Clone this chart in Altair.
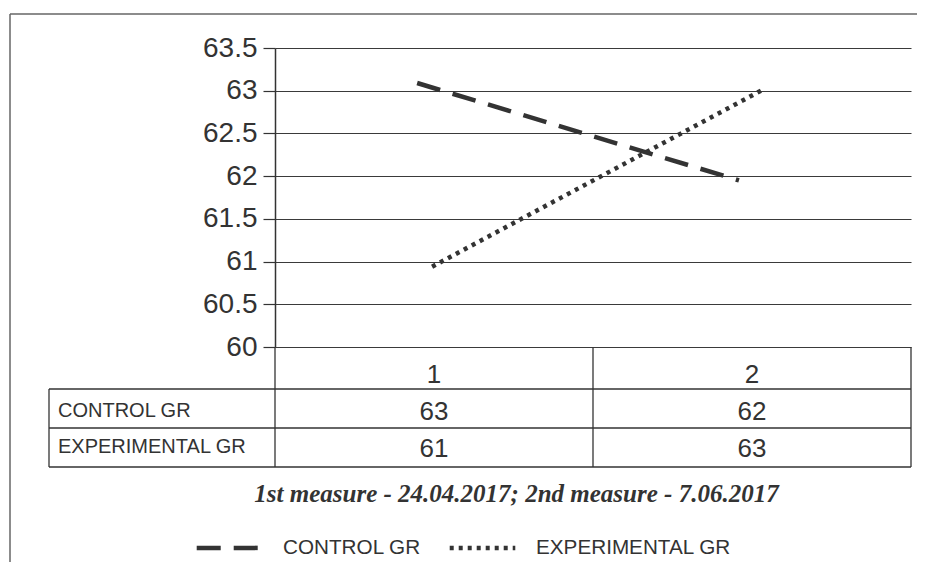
import altair as alt
import pandas as pd

# ---- data ----
series_names = ["CONTROL GR", "EXPERIMENTAL GR"]
measures = [1, 2]
# line vertices as drawn (x in measure units, y in value units)
control_x = [0.947, 1.959]
control_y = [63.09, 61.95]
experimental_x = [0.994, 2.028]
experimental_y = [60.94, 63.0]
# data table under the chart
table_control = [63, 62]
table_experimental = [61, 63]
y_ticks = [60, 60.5, 61, 61.5, 62, 62.5, 63, 63.5]
band_edges = [0.5, 1.5, 2.5]
caption = "1st measure - 24.04.2017; 2nd measure - 7.06.2017"

FONT = "Liberation Sans"
INK = "#333333"
W, H = 636, 299

lines_df = pd.DataFrame({
    "series": [series_names[0]] * 2 + [series_names[1]] * 2,
    "x": control_x + experimental_x,
    "y": control_y + experimental_y,
    "order": [0, 1, 0, 1],
})
table_df = pd.DataFrame({
    "m": measures,
    "control": table_control,
    "experimental": table_experimental,
})
edges_df = pd.DataFrame({"x": band_edges})
one = pd.DataFrame({"a": [0]})

xscale = alt.Scale(domain=[0.5, 2.5])


def xenc(field):
    return alt.X(field, scale=xscale, axis=None)


# outer frame (only top and left edges fall inside the page)
frame_top = alt.Chart(one).mark_rule(color="#666666", strokeWidth=1.5).encode(
    x=alt.value(-265), x2=alt.value(720), y=alt.value(-34)
)
frame_left = alt.Chart(one).mark_rule(color="#666666", strokeWidth=1.5).encode(
    x=alt.value(-265), y=alt.value(-34), y2=alt.value(620)
)

lines = alt.Chart(lines_df).mark_line(color=INK, strokeWidth=4.5, strokeCap="butt").encode(
    x=xenc("x:Q"),
    y=alt.Y(
        "y:Q",
        scale=alt.Scale(domain=[60, 63.5], nice=False, zero=False),
        axis=alt.Axis(
            values=y_ticks, title=None, format="~g",
            labelFont=FONT, labelFontSize=28, labelColor=INK, labelPadding=6,
            tickSize=12, tickColor=INK, tickWidth=1.2,
            domainColor=INK, domainWidth=1.5,
            grid=True, gridColor="#3a3a3a", gridWidth=1.2,
        ),
    ),
    strokeDash=alt.StrokeDash(
        "series:N",
        scale=alt.Scale(domain=series_names, range=[[24, 13], [4, 5]]),
        legend=alt.Legend(
            orient="none", legendX=-81, legendY=464, direction="horizontal",
            title=None, symbolType="stroke", symbolSize=4300,
            symbolStrokeWidth=4.5, symbolStrokeColor=INK,
            labelFont=FONT, labelFontSize=20.7, labelColor=INK, labelLimit=400,
            labelOffset=18, columnPadding=19, padding=0,
        ),
    ),
    order="order:Q",
)

# table grid
hlines = [
    alt.Chart(one).mark_rule(color=INK, strokeWidth=1.3).encode(
        x=alt.value(-226), x2=alt.value(W), y=alt.value(yv)
    )
    for yv in (341, 380, 419)
]
left_edge = alt.Chart(one).mark_rule(color=INK, strokeWidth=1.3).encode(
    x=alt.value(-226), y=alt.value(341), y2=alt.value(419)
)
vlines = alt.Chart(edges_df).mark_rule(color=INK, strokeWidth=1.3).encode(
    x=xenc("x:Q"), y=alt.value(H), y2=alt.value(419)
)


def cell_text(field, ypix):
    return alt.Chart(table_df).mark_text(
        font=FONT, fontSize=26, color=INK, baseline="middle", align="center"
    ).encode(x=xenc("m:Q"), y=alt.value(ypix), text=f"{field}:N")


header = cell_text("m", 327)
row_c = cell_text("control", 364)
row_e = cell_text("experimental", 401)

row_labels = [
    alt.Chart(pd.DataFrame({"label": [series_names[i]]})).mark_text(
        font=FONT, fontSize=20, color=INK, align="left", baseline="middle"
    ).encode(x=alt.value(-217), y=alt.value(yp), text="label:N")
    for i, yp in ((0, 362.5), (1, 398.5))
]

cap = alt.Chart(pd.DataFrame({"t": [caption]})).mark_text(
    font="Liberation Serif", fontSize=25, fontStyle="italic", fontWeight="bold",
    color=INK, align="center", baseline="alphabetic"
).encode(x=alt.value(241.5), y=alt.value(453.5), text="t:N")

chart = alt.layer(
    frame_top, frame_left, *hlines, left_edge, vlines, header, row_c, row_e,
    *row_labels, cap, lines
).properties(
    width=W, height=H,
    autosize=alt.AutoSizeParams(type="none"),
    padding={"left": 267, "top": 40, "right": 6, "bottom": 215},
).configure_view(strokeWidth=0)

chart.save("out.html", embed_options={"renderer": "svg", "actions": False})
